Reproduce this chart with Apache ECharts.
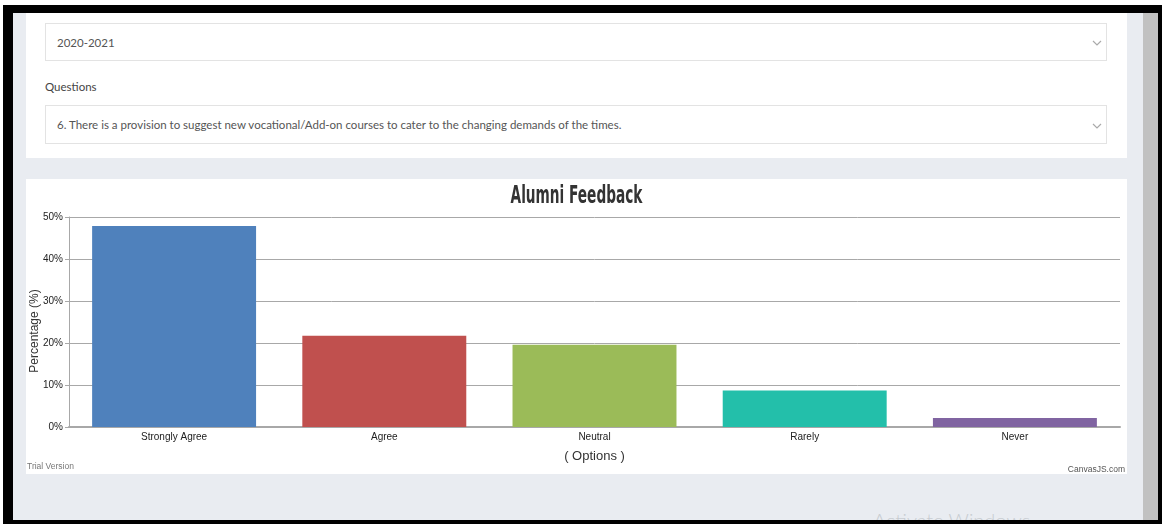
<!DOCTYPE html>
<html>
<head>
<meta charset="utf-8">
<title>Alumni Feedback</title>
<script src="https://cdn.jsdelivr.net/npm/echarts@6/dist/echarts.min.js"></script>
<style>
  html, body { margin: 0; padding: 0; width: 1162px; height: 524px; overflow: hidden; background: #fff; }
  .frame { position: absolute; left: 3px; top: 5px; width: 1159px; height: 519px; background: #000; }
  .page { position: absolute; left: 13px; top: 13px; width: 1130px; height: 507px; background: #e9ecf1; overflow: hidden; }
  .scroll { position: absolute; left: 1143px; top: 13px; width: 15px; height: 507px; background: #c1c1c1; }
  .card { position: absolute; background: #fff; }
  .select { position: absolute; left: 19px; width: 1062px; border: 1px solid #e3e3e3; background: #fff;
            font-family: "Lato", "Open Sans", sans-serif; font-size: 11.5px; color: #555; box-sizing: border-box;
            padding-left: 11px; }
  .select svg { position: absolute; right: 4px; }
  .label { position: absolute; left: 19px; font-family: "Lato", "Open Sans", sans-serif; font-size: 11.5px; color: #444; }
  .watermark { position: absolute; left: 860px; top: 495px; font-family: "Lato", "Open Sans", sans-serif; font-weight: 300;
               font-size: 20px; color: #c8ccd1; white-space: nowrap; }
  #chart { position: absolute; left: 13px; top: 166px; width: 1101px; height: 295px; }
</style>
</head>
<body>
<div class="frame"></div>
<div class="scroll"></div>
<div class="page">
  <div class="card" style="left:13px; top:0px; width:1101px; height:145px;">
    <div class="select" style="top:10px; height:38px; line-height:38px;">2020-2021
      <svg style="top:16px" width="10" height="7" viewBox="0 0 10 7"><polyline points="1,1 5,5 9,1" fill="none" stroke="#aaa" stroke-width="1.2"/></svg>
    </div>
    <div class="label" style="top:67px;">Questions</div>
    <div class="select" style="top:92px; height:39px; line-height:37px;">6. There is a provision to suggest new vocational/Add-on courses to cater to the changing demands of the times.
      <svg style="top:17px" width="10" height="7" viewBox="0 0 10 7"><polyline points="1,1 5,5 9,1" fill="none" stroke="#aaa" stroke-width="1.2"/></svg>
    </div>
  </div>
  <div class="watermark">Activate Windows</div>
  <div id="chart"></div>
</div>
<script>
// Survey answer options and their share of responses (percent)
const categories = ["Strongly Agree", "Agree", "Neutral", "Rarely", "Never"];
const percentages = [47.83, 21.74, 19.57, 8.70, 2.17];
const barColors = ["#4F81BC", "#C0504E", "#9BBB58", "#23BFAA", "#8064A1"];
const yTicks = { min: 0, max: 50, interval: 10 };

const sans = "'Liberation Sans', Arial, sans-serif";
const chartEl = document.getElementById('chart');
const chart = echarts.init(chartEl, null, { renderer: 'canvas' });

chart.setOption({
  animation: false,
  backgroundColor: '#ffffff',
  grid: { left: 43, right: 7, top: 38, bottom: 47, outerBoundsMode: 'none', containLabel: false },
  xAxis: {
    type: 'category',
    data: categories,
    name: '( Options )',
    nameLocation: 'middle',
    nameGap: 23,
    nameTextStyle: { fontFamily: sans, fontSize: 13, color: '#333' },
    axisLine: { lineStyle: { color: '#a8a8a8', width: 2 } },
    axisTick: { alignWithLabel: true, length: 4, lineStyle: { color: '#a8a8a8' } },
    axisLabel: { fontFamily: sans, fontSize: 10, color: '#222', margin: 5 }
  },
  yAxis: {
    type: 'value',
    min: yTicks.min,
    max: yTicks.max,
    interval: yTicks.interval,
    axisLine: { show: true, lineStyle: { color: '#a8a8a8', width: 1 } },
    axisTick: { show: true, length: 4, lineStyle: { color: '#a8a8a8' } },
    axisLabel: { formatter: '{value}%', fontFamily: sans, fontSize: 10, color: '#222', margin: 6 },
    splitLine: { lineStyle: { color: '#a8a8a8', width: 1 } }
  },
  series: [{
    type: 'bar',
    barCategoryGap: '22%',
    data: percentages.map((v, i) => ({ value: v, itemStyle: { color: barColors[i] } }))
  }],
  graphic: [
    {
      // condensed heavy title, centred over the chart
      type: 'text',
      x: chartEl.clientWidth / 2,
      y: 18,
      scaleX: 0.57,
      style: {
        text: 'Alumni Feedback', x: 0, y: 0, align: 'center', verticalAlign: 'middle',
        fontFamily: "'DejaVu Sans', sans-serif", fontWeight: 'bold', fontSize: 24, fill: '#333'
      }
    },
    {
      // vertical value-axis title
      type: 'text',
      x: 9,
      y: 152,
      rotation: Math.PI / 2,
      style: {
        text: 'Percentage (%)', x: 0, y: 0, align: 'center', verticalAlign: 'middle',
        fontFamily: sans, fontSize: 12, fill: '#333'
      }
    },
    { type: 'text', left: 1, bottom: 3, style: { text: 'Trial Version', fontFamily: sans, fontSize: 8.5, fill: '#777' } },
    { type: 'text', right: 2, bottom: 0, style: { text: 'CanvasJS.com', fontFamily: sans, fontSize: 8.5, fill: '#555' } }
  ]
});
</script>
</body>
</html>
